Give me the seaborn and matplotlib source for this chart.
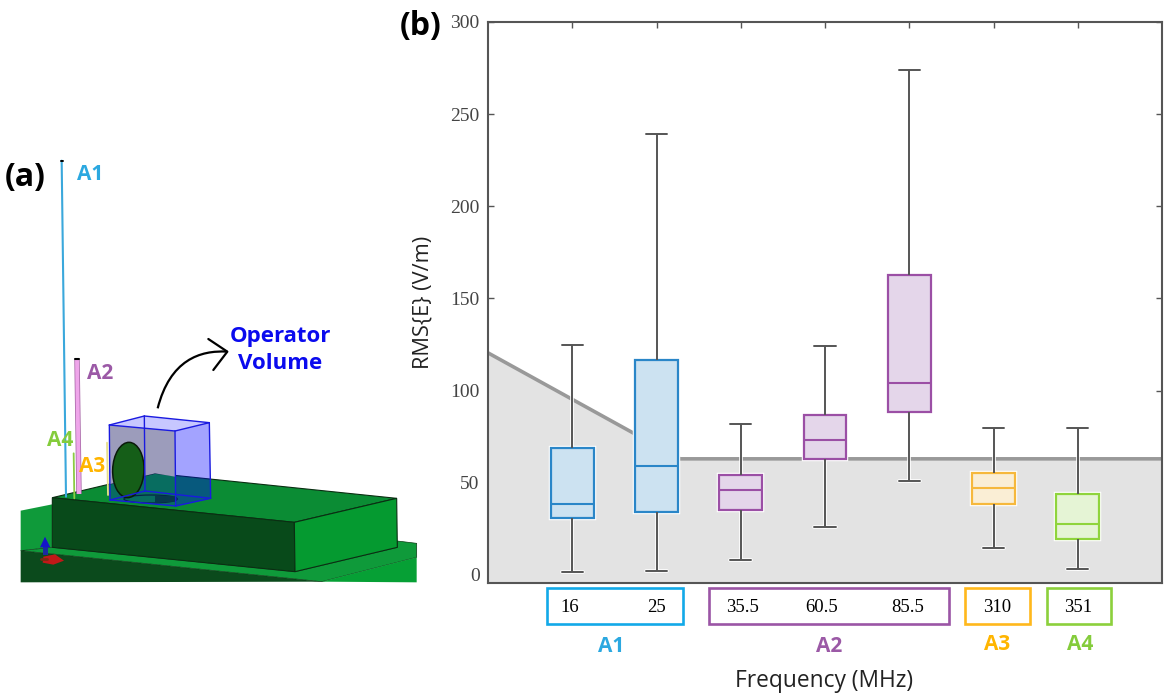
#%%
import numpy as np
import pandas as pd
import seaborn as sns
import matplotlib.pyplot as plt
import matplotlib.patheffects as pe
from matplotlib.patches import Polygon, Ellipse, Rectangle, PathPatch
from matplotlib.path import Path
from matplotlib.transforms import ScaledTranslation

#%%
# box stats
freqs = ['16', '25', '35.5', '60.5', '85.5', '310', '351']
antenna = ['A1', 'A1', 'A2', 'A2', 'A2', 'A3', 'A4']
whisker_low = [1.5, 2, 8, 26, 51, 14.6, 3]
q1 = [31, 34, 35, 63, 88.6, 38.7, 19.7]
median = [38.5, 59, 46, 73, 104, 47, 27.8]
q3 = [69, 116.6, 54, 87, 163, 55.5, 44]
whisker_high = [125, 239.5, 82, 124, 274, 80, 79.5]

# reference level (grey line), x in category units
limit_x = [-1, 1.28, 7]
limit_y = [120.5, 63, 63]

edge_colors = {'A1': '#2A86C8', 'A2': '#9B4FA5', 'A3': '#F6B83C', 'A4': '#8FD43C'}
fill_colors = {'A1': '#CCE2F1', 'A2': '#E4D6EA', 'A3': '#FAEED5', 'A4': '#E5F4D5'}
label_colors = {'A1': '#2BA8E0', 'A2': '#9B59A6', 'A3': '#FFB500', 'A4': '#84CC3B'}
frame_colors = {'A1': '#12A9E8', 'A2': '#9B55A5', 'A3': '#FFB81C', 'A4': '#8CD03C'}

W, H = 1169, 698
SANS = 'Open Sans'

#%%
sns.set_theme(style='white')
plt.rcParams['font.family'] = [SANS, 'DejaVu Sans']

fig = plt.figure(figsize=(W / 100, H / 100), dpi=100)
ax = fig.add_axes([488 / W, (H - 582.7) / H, (1162 - 488) / W, (582.7 - 22) / H])

# five numbers per frequency, so the quartiles come back as read
rows = []
for i, f in enumerate(freqs):
    for v in (whisker_low[i], q1[i], median[i], q3[i], whisker_high[i]):
        rows.append({'freq': f, 'value': v})
df = pd.DataFrame(rows)

palette = {f: fill_colors[a] for f, a in zip(freqs, antenna)}
sns.boxplot(data=df, x='freq', y='value', hue='freq', order=freqs, hue_order=freqs,
            palette=palette, legend=False, width=0.505, whis=(0, 100),
            linecolor='#555555', linewidth=1.4, saturation=1, ax=ax, zorder=3)

halo = [pe.withStroke(linewidth=3.2, foreground='white')]
for cont, a in zip(ax.containers, antenna):
    for b in cont.boxes:
        b.set_edgecolor(edge_colors[a])
        b.set_linewidth(1.6)
        b.set_path_effects(halo)
        b.set_zorder(3)
    for m in cont.medians:
        m.set_color(edge_colors[a])
        m.set_linewidth(1.5)
        m.set_zorder(3.3)
    # white line under whiskers and caps, the dark one sits above the box halo
    for l in list(cont.whiskers) + list(cont.caps):
        ax.plot(l.get_xdata(), l.get_ydata(), color='white', lw=2.6, zorder=2.8)
        l.set_zorder(3.2)

# shaded region under the reference level
ax.fill_between(limit_x, -4.2, limit_y, color='#E3E3E3', lw=0, zorder=1)
ax.plot(limit_x, limit_y, color='#999999', lw=2.6, zorder=2, solid_joinstyle='miter')

ax.set_xlim(-1, 7)
ax.set_ylim(-4.2, 300)
ax.set_yticks(np.arange(0, 301, 50))
ax.set_xticks(range(len(freqs)))
ax.set_xticklabels(freqs, family='Liberation Serif', fontsize=13.5, color='black')
ax.set_yticklabels([str(t) for t in range(0, 301, 50)], family='Liberation Serif',
                   fontsize=14, color='#444444')
ax.tick_params(axis='both', direction='in', length=4, width=1, color='#555555',
               top=True, right=True, bottom=True, left=True)
ax.tick_params(axis='x', pad=11.5)
ax.tick_params(axis='y', pad=6)

# labels do not sit exactly under their ticks in the original
x_label_shift = [-3, 0, 2, -3, -2, 4, 0]
for lab, dx in zip(ax.get_xticklabels(), x_label_shift):
    lab.set_transform(lab.get_transform() + ScaledTranslation(dx / 100, 0, fig.dpi_scale_trans))

for s in ax.spines.values():
    s.set_color('#555555')
    s.set_linewidth(1.5)

ax.set_xlabel('')
ax.set_ylabel('RMS{E} (V/m)', fontsize=15.7, color='#222222', labelpad=12)

#%%
# overlay in pixels for the frames round the tick labels
over = fig.add_axes([0, 0, 1, 1], facecolor='none')
over.set_xlim(0, W)
over.set_ylim(H, 0)
over.axis('off')

frames = [('A1', 547, 683, 611, 646), ('A2', 709, 949, 829, 646),
          ('A3', 965, 1030, 997, 644), ('A4', 1047, 1111, 1080, 644)]
for name, x0, x1, tx, ty in frames:
    over.add_patch(Rectangle((x0, 588), x1 - x0, 36, fill=False, lw=1.9, ec=frame_colors[name]))
    over.text(tx, ty, name, color=label_colors[name], fontsize=15, fontweight='bold',
              ha='center', va='center')

over.text(824, 681, 'Frequency (MHz)', fontsize=16.4, color='#222222', ha='center', va='center')
over.text(421, 26, '(b)', fontsize=23, fontweight='bold', color='black', ha='center', va='center')

#%%
# panel (a): CAD view, coordinates follow a 3x crop of the left side
pa = fig.add_axes([0, (H - 600) / H, 430 / W, 460 / H], facecolor='none')
pa.set_xlim(0, 1290)
pa.set_ylim(1380, 0)
pa.axis('off')

def poly(pts, fc, ec='none', lw=0.8, alpha=None):
    pa.add_patch(Polygon(pts, closed=True, fc=fc, ec=ec, lw=lw, alpha=alpha))

# ground plates
poly([(62, 1112), (157, 1093), (157, 1222), (62, 1232)], '#0F9A3A')
poly([(62, 1232), (965, 1325), (62, 1327)], '#0B4A1C')
poly([(62, 1232), (157, 1222), (885, 1295), (1192, 1222), (1192, 1203), (1250, 1210),
      (1250, 1252), (965, 1325)], '#0F9A3A', ec='#0A3A14', lw=0.5)
poly([(965, 1325), (1250, 1252), (1250, 1327)], '#06A035')

# raised block
poly([(157, 1073), (465, 1000), (1190, 1075), (883, 1147)], '#0B8C34', ec='#0A2E12')
poly([(157, 1073), (883, 1147), (885, 1295), (157, 1222)], '#084A1A', ec='#0A2E12')
poly([(883, 1147), (1190, 1075), (1192, 1222), (885, 1295)], '#059A30', ec='#0A2E12')

# antennas
pa.plot([185, 198], [62, 1070], color='#3AA8DC', lw=1.5)
pa.plot([183, 188], [62, 62], color='black', lw=1.4)
pa.plot([231, 237], [658, 1062], color='#A868A8', lw=3.9, solid_capstyle='butt')
pa.plot([231, 237], [658, 1062], color='#EFA5EA', lw=2.8, solid_capstyle='butt')
pa.plot([224, 238], [658, 658], color='black', lw=1.5)
pa.plot([221, 223], [940, 1075], color='#8CCC44', lw=1.3)
pa.plot([321, 324], [908, 1065], color='#E8E08A', lw=1.3)

# hole in the block
pa.add_patch(Ellipse((452, 1077), 160, 24, fc='#0B8C34', ec='#0A2E12', lw=0.9))
poly([(465, 1066), (525, 1069), (532, 1077), (525, 1085), (465, 1089)], '#0A4A1C')

# operator volume
poly([(330, 858), (433, 835), (525, 875), (525, 1010), (465, 1000), (330, 1032)], '#C8C8A8')
poly([(328, 855), (433, 828), (628, 848), (525, 873)], '#FFFFFF')
poly([(328, 855), (433, 828), (628, 848), (525, 873)], '#0000FF', alpha=0.22)
poly([(328, 855), (525, 873), (527, 1098), (330, 1080)], '#0000FF', alpha=0.22)
poly([(525, 873), (628, 848), (632, 1075), (527, 1098)], '#0000FF', alpha=0.36)
pa.add_patch(Ellipse((385, 990), 94, 166, angle=2, fc='#155E18', ec='#0A1A0A', lw=1.1, zorder=3))
blue = '#1A1AE0'
for a_pt, b_pt in [((328, 855), (433, 828)), ((433, 828), (628, 848)), ((628, 848), (525, 873)),
                   ((525, 873), (328, 855)), ((328, 855), (330, 1080)), ((525, 873), (527, 1098)),
                   ((628, 848), (632, 1075)), ((433, 828), (435, 1053)), ((330, 1080), (527, 1098)),
                   ((527, 1098), (632, 1075)), ((330, 1080), (435, 1053)), ((435, 1053), (632, 1075))]:
    pa.plot([a_pt[0], b_pt[0]], [a_pt[1], b_pt[1]], color=blue, lw=1, zorder=4)

# coordinate triad
poly([(128, 1222), (143, 1222), (143, 1245), (128, 1245)], '#1A2AA0')
poly([(120, 1222), (135, 1190), (151, 1222)], '#1414C8')
poly([(130, 1250), (165, 1243), (192, 1262), (160, 1274), (128, 1268)], '#C01818')
pa.plot([122, 140], [1258, 1258], color='#7A2A10', lw=2)

# arrow to the volume label
arc = Path([(473, 805), (510, 660), (600, 630), (682, 635)],
           [Path.MOVETO, Path.CURVE4, Path.CURVE4, Path.CURVE4])
pa.add_patch(PathPatch(arc, fc='none', ec='black', lw=1.6))
pa.plot([625, 682, 640], [597, 635, 690], color='black', lw=1.6)

pa.text(840, 630, 'Operator\nVolume', color='#0A0AEE', fontsize=16, fontweight='bold',
        ha='center', va='center', linespacing=1.35)
pa.text(271, 103, 'A1', color=label_colors['A1'], fontsize=15, fontweight='bold', ha='center', va='center')
pa.text(300, 700, 'A2', color=label_colors['A2'], fontsize=15, fontweight='bold', ha='center', va='center')
pa.text(275, 978, 'A3', color=label_colors['A3'], fontsize=15, fontweight='bold', ha='center', va='center')
pa.text(180, 900, 'A4', color=label_colors['A4'], fontsize=15, fontweight='bold', ha='center', va='center')
pa.text(75, 112, '(a)', color='black', fontsize=23, fontweight='bold', ha='center', va='center')

fig.savefig('out.png', dpi=100)
